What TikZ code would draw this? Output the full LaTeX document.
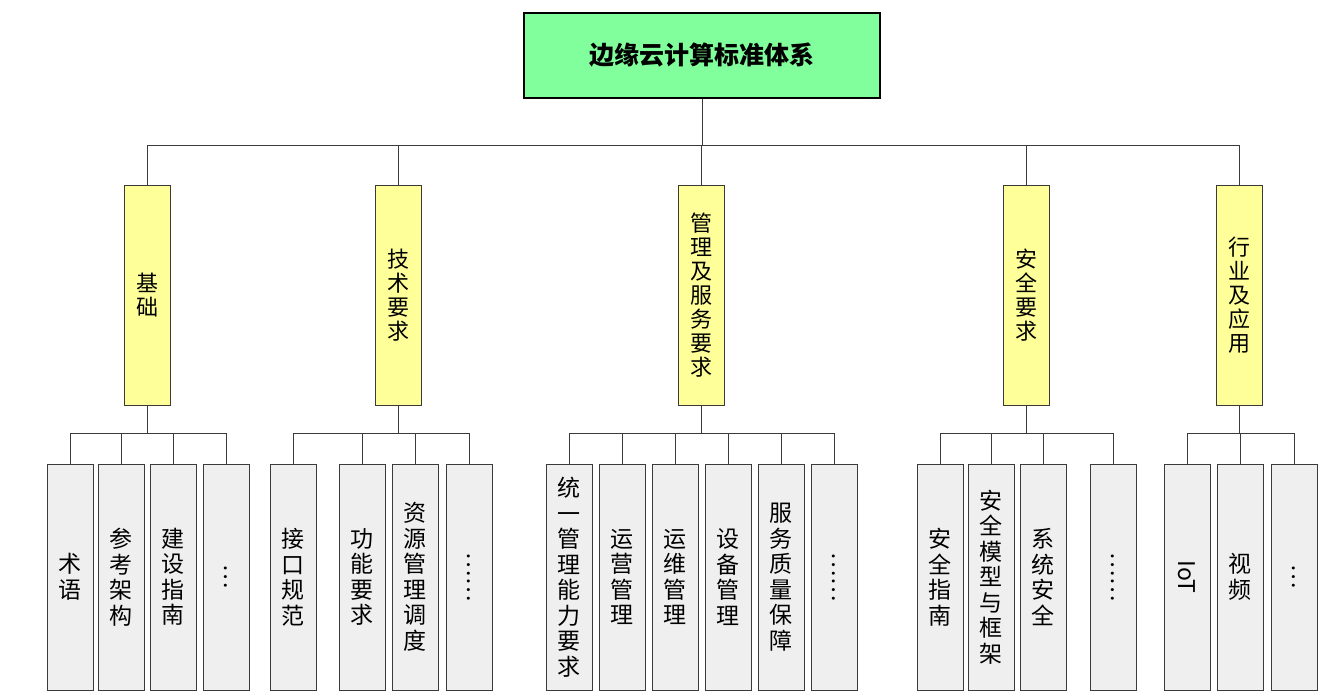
\documentclass[tikz,border=0pt]{standalone}
\usepackage{fontspec}
\newfontfamily\cjk{Noto Sans CJK SC}
\definecolor{rootgreen}{HTML}{80FF9C}
\definecolor{catyellow}{HTML}{FFFF99}
\definecolor{leafgray}{HTML}{EFEFEF}
\definecolor{edgegray}{HTML}{3A3A3A}

\begin{document}
\begin{tikzpicture}[x=1pt, y=-1pt,
  root/.style={draw=black, line width=1.5pt, fill=rootgreen, minimum width=356pt, minimum height=85pt, font=\cjk\bfseries\fontsize{25}{28}\selectfont},
  cat/.style={draw=edgegray, fill=catyellow, minimum width=46pt, minimum height=220pt, align=center, inner sep=0pt, font=\cjk\fontsize{22}{24}\selectfont},
  leaf/.style={draw=edgegray, fill=leafgray, minimum width=46pt, minimum height=226pt, align=center, inner sep=0pt, font=\cjk\fontsize{23}{25.5}\selectfont},
  link/.style={draw=edgegray, line width=0.8pt}]

  \useasboundingbox (0,0) rectangle (1340,698);

  % Top node
  \node[root] (root) at (702,55.5) {边缘云计算标准体系};

  % Categories
  \node[cat] (c1) at (147,295) {基\\础};
  \node[cat] (c2) at (398,295) {技\\术\\要\\求};
  \node[cat] (c3) at (701,295) {管\\理\\及\\服\\务\\要\\求};
  \node[cat] (c4) at (1026,295) {安\\全\\要\\求};
  \node[cat] (c5) at (1239,295) {行\\业\\及\\应\\用};

  % Leaves of c1
  \node[leaf] (l11) at (70,577) {术\\语};
  \node[leaf] (l12) at (121,577) {参\\考\\架\\构};
  \node[leaf] (l13) at (173,577) {建\\设\\指\\南};
  \node[leaf] (l14) at (226,577) {\rotatebox{-90}{…}};
  % Leaves of c2
  \node[leaf] (l21) at (293,577) {接\\口\\规\\范};
  \node[leaf] (l22) at (362,577) {功\\能\\要\\求};
  \node[leaf] (l23) at (415,577) {资\\源\\管\\理\\调\\度};
  \node[leaf] (l24) at (469,577) {\rotatebox{-90}{……}};
  % Leaves of c3
  \node[leaf] (l31) at (569,577) {统\\一\\管\\理\\能\\力\\要\\求};
  \node[leaf] (l32) at (622,577) {运\\营\\管\\理};
  \node[leaf] (l33) at (675,577) {运\\维\\管\\理};
  \node[leaf] (l34) at (728,577) {设\\备\\管\\理};
  \node[leaf] (l35) at (781,577) {服\\务\\质\\量\\保\\障};
  \node[leaf] (l36) at (834,577) {\rotatebox{-90}{……}};
  % Leaves of c4
  \node[leaf] (l41) at (940,577) {安\\全\\指\\南};
  \node[leaf] (l42) at (991,577) {安\\全\\模\\型\\与\\框\\架};
  \node[leaf] (l43) at (1043,577) {系\\统\\安\\全};
  \node[leaf] (l44) at (1113,577) {\rotatebox{-90}{……}};
  % Leaves of c5
  \node[leaf] (l51) at (1187,577) {\rotatebox{-90}{IoT}};
  \node[leaf] (l52) at (1240,577) {视\\频};
  \node[leaf] (l53) at (1294,577) {\rotatebox{-90}{…}};

  % Root to categories
  \foreach \c in {c1,c2,c3,c4,c5}
    \path[link] (root.south) -- ++(0,47) -| (\c.north);

  % Categories to leaves
  \foreach \c/\ls in {c1/{l11,l12,l13,l14}, c2/{l21,l22,l23,l24},
                      c3/{l31,l32,l33,l34,l35,l36}, c4/{l41,l42,l43,l44},
                      c5/{l51,l52,l53}}
    \foreach \l in \ls
      \path[link] (\c.south) -- ++(0,28) -| (\l.north);

\end{tikzpicture}
\end{document}
